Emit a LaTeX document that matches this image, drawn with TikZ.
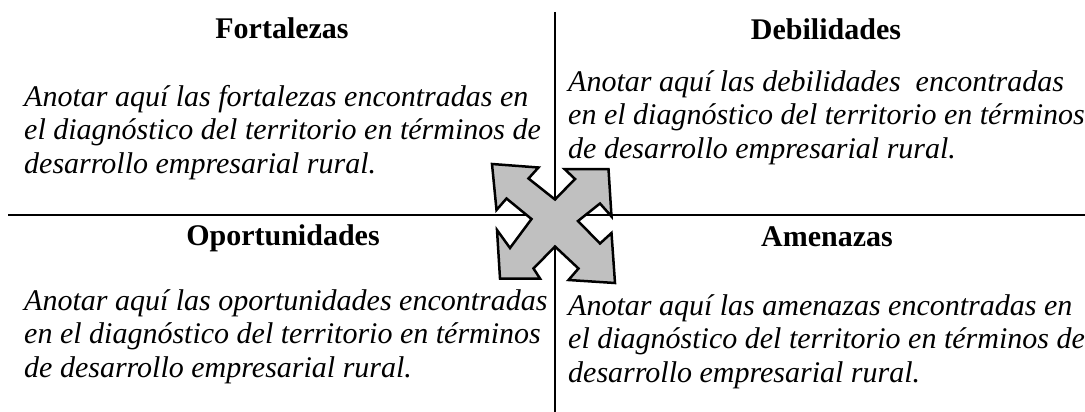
\documentclass[tikz,border=0pt]{standalone}
\usepackage{fontspec}
\setmainfont{Liberation Serif}
\definecolor{arrowgray}{RGB}{192,192,192}

\begin{document}
\begin{tikzpicture}[x=1pt,y=-1pt]
        \useasboundingbox (0,0) rectangle (1085,412);

        \coordinate (top)    at (554.5,12);
        \coordinate (bottom) at (554.5,412);
        \coordinate (left)   at (8,215);
        \coordinate (right)  at (1085,215);

        \begin{scope}[every edge/.style={draw, line width=2pt}]
          \path (top)  edge (bottom);
          \path (left) edge (right);
        \end{scope}

        % headings
        \begin{scope}[every node/.style={anchor=base, inner sep=0pt,
            font=\fontsize{30}{33.5}\selectfont\bfseries}]
          \node (fort) at (282,39)  {Fortalezas};
          \node (debi) at (826,40)  {Debilidades};
          \node (opor) at (283,245) {Oportunidades};
          \node (amen) at (827,246) {Amenazas};
        \end{scope}

        % body texts (anchored at the baseline of the last line)
        \begin{scope}[every node/.style={anchor=base west, inner sep=0pt, align=left,
            font=\fontsize{30}{33.5}\selectfont\itshape}]
          \node (fortxt) at (24,173)  {Anotar aquí las fortalezas encontradas en\\
            el diagnóstico del territorio en términos de\\
            desarrollo empresarial rural.};
          \node (debtxt) at (568,158)  {Anotar aquí las debilidades\ \ encontradas\\
            en el diagnóstico del territorio en términos\\
            de desarrollo empresarial rural.};
          \node (opotxt) at (24,377)  {Anotar aquí las oportunidades encontradas\\
            en el diagnóstico del territorio en términos\\
            de desarrollo empresarial rural.};
          \node (amentxt) at (568,382) {Anotar aquí las amenazas encontradas en\\
            el diagnóstico del territorio en términos de\\
            desarrollo empresarial rural.};
        \end{scope}

        % four-way arrow
        \draw[fill=arrowgray, line width=2.5pt, line join=miter]
          (492,164) -- (538.5,167.5) -- (528.5,178.5) -- (555,199.5)
          -- (575,179) -- (564.5,169) -- (608.5,169) -- (611.5,216.5)
          -- (600,203.5) -- (578,221) -- (600,243.5) -- (611.5,233)
          -- (615,283) -- (568.5,280) -- (578.5,268.5) -- (555,246.5)
          -- (533.5,268.5) -- (540,278.5) -- (500,278.5) -- (497,230)
          -- (510,248) -- (531.5,219) -- (506.5,198.5) -- (496.5,210)
          -- cycle;

      \end{tikzpicture}
\end{document}
